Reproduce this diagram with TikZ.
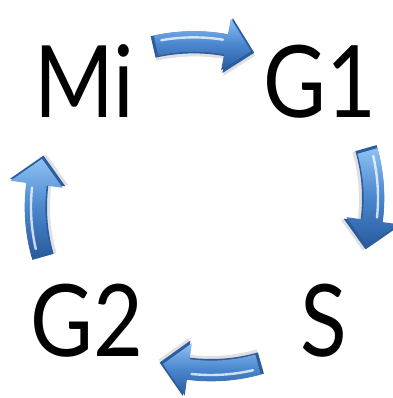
\documentclass[tikz,border=0pt]{standalone}
\usepackage{fontspec}
\setmainfont{Lato}[FakeStretch=0.86]
\definecolor{arrowdark}{HTML}{2A5C9E}
\definecolor{arrowmid}{HTML}{4A86CE}
\definecolor{arrowlight}{HTML}{8DC1F2}

% Curved block arrow in local coordinates: tail at (0,0), tip at (100,0),
% the shaft bowing towards +y along a circle centred at (50,-175).
\newcommand\arrowshape[1]{%
  \path[#1] ([shift={(50pt,-175pt)}]105.9:193pt)
    arc[start angle=105.9,end angle=82.3,radius=193pt]
    -- ([shift={(50pt,-175pt)}]82.3:210pt)
    -- ([shift={(50pt,-175pt)}]73.6:182pt)
    -- ([shift={(50pt,-175pt)}]82.3:154pt)
    -- ([shift={(50pt,-175pt)}]82.3:171pt)
    arc[start angle=82.3,end angle=105.9,radius=171pt] -- cycle;}

\tikzset{
  phase/.style={font=\fontsize{100}{100}\selectfont, inner sep=0pt, anchor=base},
  glossy arrow/.pic={
    % drop shadow and dark body
    \begin{scope}[shift={(1pt,-3pt)}]
      \arrowshape{fill=black, opacity=0.12}
    \end{scope}
    \arrowshape{fill=arrowdark}
    % shaded face
    \begin{scope}[scale=0.94, shift={(3pt,1.5pt)}]
      \arrowshape{top color=arrowlight, bottom color=arrowdark, middle color=arrowmid}
    \end{scope}
    % gloss streak along the shaft
    \draw[white, opacity=0.75, line width=2.4pt, line cap=round]
      ([shift={(50pt,-175pt)}]103:187pt) arc[start angle=103,end angle=84,radius=187pt];
  }
}

\begin{document}
\begin{tikzpicture}[x=1pt,y=1pt]
  \useasboundingbox[fill=white] (0,0) rectangle (392,398);

  % cell-cycle phases
  \node[phase] (mi) at (84,280) {Mi};
  \node[phase] (g1) at (320,280) {G1};
  \node[phase] (s)  at (324,41) {S};
  \node[phase] (g2) at (87,41) {G2};

  % arrows running clockwise between the phases
  \pic[rotate=-3]  at (153,351) {glossy arrow};
  \pic[rotate=-90] at (366,250) {glossy arrow};
  \pic[rotate=180] at (261,35)  {glossy arrow};
  \pic[rotate=90]  at (43,141)  {glossy arrow};
\end{tikzpicture}
\end{document}
